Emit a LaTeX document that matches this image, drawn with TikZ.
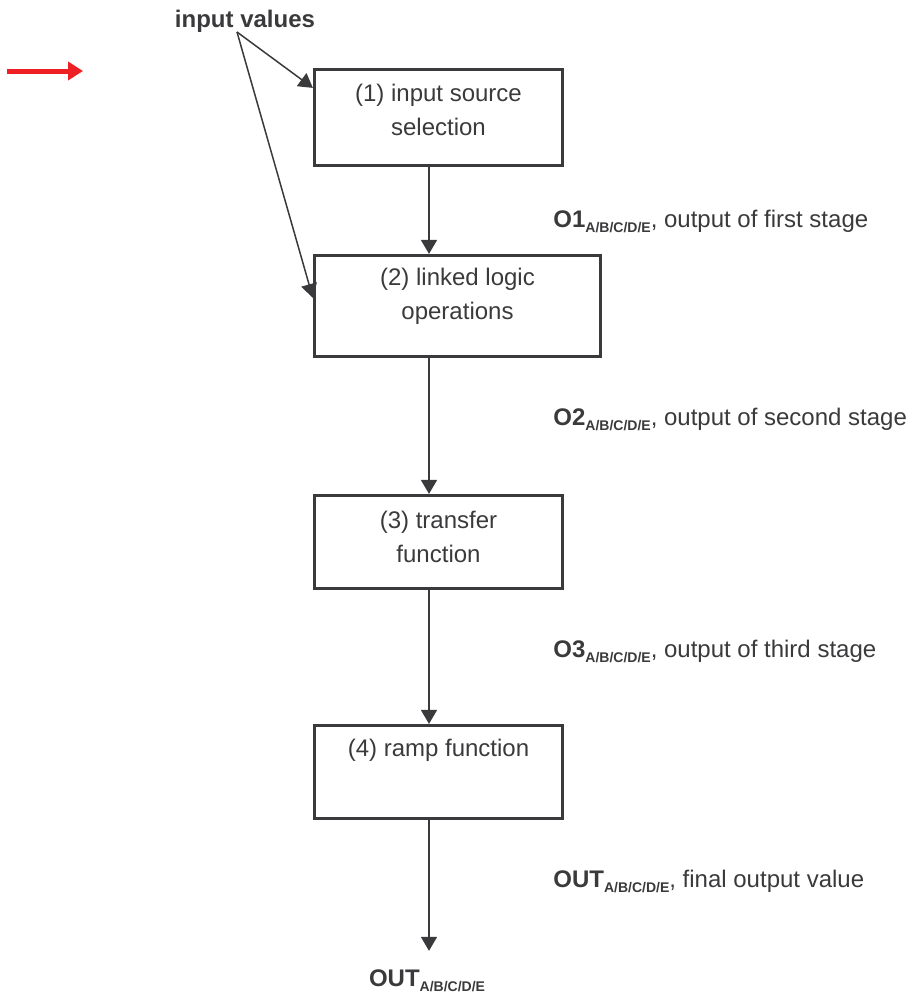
\documentclass[tikz,border=0pt]{standalone}
\usepackage{fontspec}
\setmainfont{Liberation Sans}
\usetikzlibrary{arrows.meta}
\definecolor{ink}{HTML}{3A3A3C}
\definecolor{signal}{HTML}{EE2024}
\newcommand{\chan}[1]{\textbf{#1}\raisebox{-0.45ex}{\fontsize{7}{8}\selectfont\bfseries A/B/C/D/E}}

\begin{document}
\begin{tikzpicture}[x=0.5pt, y=-0.5pt, color=ink, text=ink,
	stage/.style={draw=ink, line width=1.6pt, inner sep=0pt},
	caption/.style={font=\fontsize{12}{17}\selectfont, align=center, inner sep=0pt},
	side/.style={anchor=base west, inner sep=0pt, font=\fontsize{12}{14}\selectfont},
	flow/.style={-{Triangle[length=7pt,width=8pt]}, line width=0.75pt}]
			\useasboundingbox (0,0) rectangle (917,993);

			\node[stage, minimum width=124pt, minimum height=48pt] (b1) at (438.5, 117.5) {};
			\node[stage, minimum width=143pt, minimum height=50.5pt] (b2) at (457.5, 306) {};
			\node[stage, minimum width=124pt, minimum height=46.5pt] (b3) at (438.5, 542) {};
			\node[stage, minimum width=124pt, minimum height=46.5pt] (b4) at (438.5, 772) {};

			\node[caption] (t1) at (438.5, 110) {(1) input source\\selection};
			\node[caption] (t2) at (457.5, 296.5) {(2) linked logic\\operations};
			\node[caption] (t3) at (438.5, 536.5) {(3) transfer\\function};
			\node[caption] (t4) at (438.5, 750) {(4) ramp function};

			\coordinate (axis) at (429, 0);

			\node[side] (o1) at (553, 227) {\chan{O1}, output of first stage};
			\node[side] (o2) at (553, 425) {\chan{O2}, output of second stage};
			\node[side] (o3) at (553, 657) {\chan{O3}, output of third stage};
			\node[side] (o4) at (553, 887) {\chan{OUT}, final output value};

			\node[side, anchor=base] (out) at (427, 986) {\chan{OUT}};

			\node[side, anchor=base] (inval) at (245, 27) {\textbf{input values}};
			\coordinate (src) at (237, 32);

			\draw[flow] (src) -- ([yshift=-10pt]b1.north west);
			\draw[flow] (src) -- ([yshift=-22pt]b2.north west);

			\draw[flow] (b1.south -| axis) -- (b2.north -| axis);
			\draw[flow] (b2.south -| axis) -- (b3.north -| axis);
			\draw[flow] (b3.south -| axis) -- (b4.north -| axis);
			\draw[flow, shorten >=9pt] (b4.south -| axis) -- (out.north -| axis);

			\coordinate (redA) at (7, 71);
			\coordinate (redB) at (83, 71);
			\draw[signal, line width=2.5pt, -{Triangle[length=7.5pt,width=9pt]}] (redA) -- (redB);
		\end{tikzpicture}
\end{document}
